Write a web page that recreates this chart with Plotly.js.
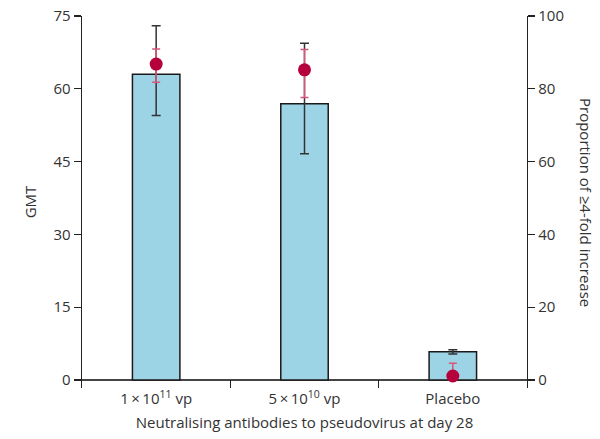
<!DOCTYPE html>
<html>
<head>
<meta charset="utf-8">
<script src="https://cdn.plot.ly/plotly-3.0.1.min.js"></script>
<style>html,body{margin:0;padding:0;background:#fff}#chart{width:600px;height:439px}</style>
</head>
<body>
<div id="chart"></div>
<script>
var categories = ["1\u2009×\u200910<sup>11</sup> vp", "5\u2009×\u200910<sup>10</sup> vp", "Placebo"];
var gmt = [63.0, 56.9, 5.8];
var gmtUpper = [73.0, 69.4, 6.25];
var gmtLower = [54.5, 46.6, 5.35];
var proportion = [86.8, 85.2, 1.1];
var propUpper = [90.9, 90.8, 4.6];
var propLower = [81.8, 77.6, 0];

var fontFam = "Open Sans, Noto Sans, sans-serif";
var txtColor = "#333333";

var barTrace = {
  type: "bar",
  x: categories,
  y: gmt,
  width: 0.32,
  marker: {color: "#9dd4e5", line: {color: "#1a1a1a", width: 1.5}},
  error_y: {
    type: "data",
    array: gmtUpper.map(function(u, i){ return u - gmt[i]; }),
    arrayminus: gmtLower.map(function(l, i){ return gmt[i] - l; }),
    color: "#333333", thickness: 1.5, width: 4.5
  },
  yaxis: "y",
  hoverinfo: "skip"
};

var dotTrace = {
  type: "scatter",
  mode: "markers",
  x: categories,
  y: proportion,
  marker: {color: "#b5003b", size: 13},
  error_y: {
    type: "data",
    array: propUpper.map(function(u, i){ return u - proportion[i]; }),
    arrayminus: propLower.map(function(l, i){ return proportion[i] - l; }),
    color: "#d9557a", thickness: 1.5, width: 4
  },
  yaxis: "y2",
  hoverinfo: "skip"
};

var layout = {
  width: 600, height: 439,
  margin: {l: 82, r: 73, t: 16, b: 51},
  paper_bgcolor: "#ffffff", plot_bgcolor: "#ffffff",
  showlegend: false,
  font: {family: fontFam, size: 15, color: txtColor},
  xaxis: {
    type: "category",
    range: [-0.5, 2.5],
    tickson: "boundaries",
    ticks: "inside", ticklen: 8, tickwidth: 1.2, tickcolor: "#222",
    showline: false, showgrid: false, zeroline: false,
    tickfont: {size: 15, color: txtColor},
    title: {text: "Neutralising antibodies to pseudovirus at day 28", font: {size: 15, color: txtColor}, standoff: 10}
  },
  yaxis: {
    range: [-1.65, 75],
    tickvals: [0, 15, 30, 45, 60, 75],
    ticks: "outside", ticklen: 7, tickwidth: 1.2, tickcolor: "#222",
    showline: true, linecolor: "#222", linewidth: 1.3,
    showgrid: false,
    zeroline: true, zerolinecolor: "#444", zerolinewidth: 1.3,
    tickfont: {size: 15, color: txtColor},
    title: {text: "GMT", font: {size: 15, color: txtColor}, standoff: 13}
  },
  yaxis2: {
    overlaying: "y", side: "right",
    range: [-2.2, 100],
    tickvals: [0, 20, 40, 60, 80, 100],
    ticks: "outside", ticklen: 7, tickwidth: 1.2, tickcolor: "#222",
    showline: true, linecolor: "#222", linewidth: 1.3,
    showgrid: false, zeroline: false,
    tickfont: {size: 15, color: txtColor}
  },
  annotations: [{
    text: "Proportion of ≥4-fold increase",
    xref: "paper", yref: "paper",
    x: 1, xshift: 59, y: 0.5,
    xanchor: "center", yanchor: "middle",
    textangle: 90, showarrow: false,
    font: {size: 15, color: txtColor}
  }]
};

Plotly.newPlot("chart", [barTrace, dotTrace], layout, {displayModeBar: false, staticPlot: true});
</script>
</body>
</html>
